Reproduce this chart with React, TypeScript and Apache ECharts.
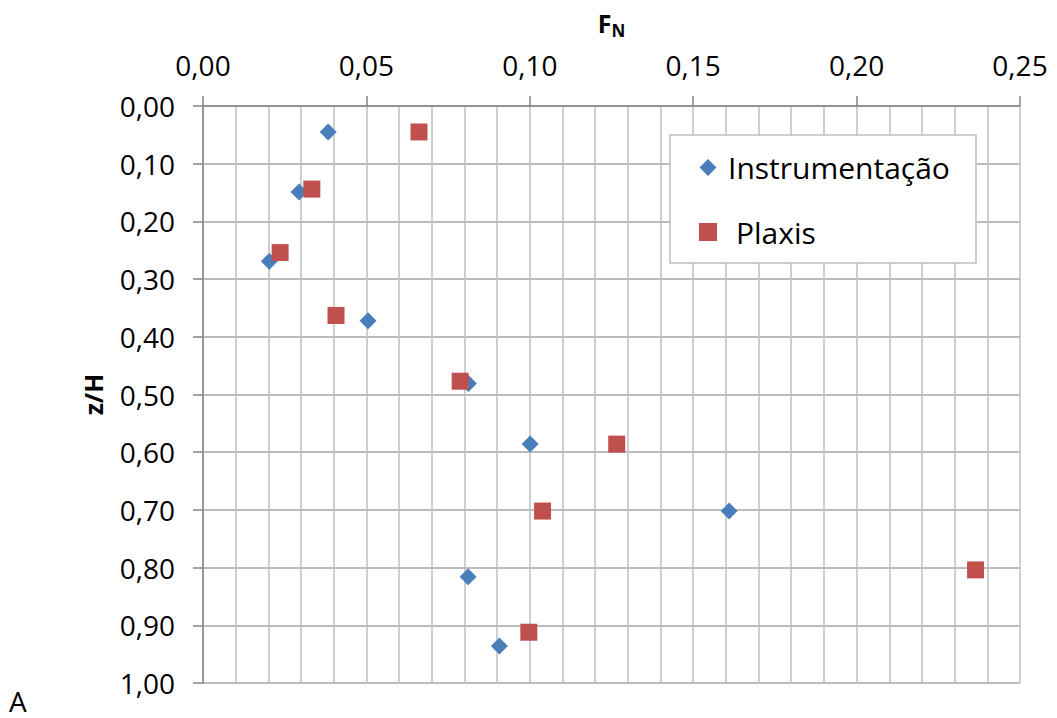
import React, { useEffect, useRef } from "react";
import * as echarts from "echarts";

const seriesNames = ["Instrumentação", "Plaxis"];
const instrumentacaoFN = [0.0383, 0.0294, 0.0203, 0.0505, 0.0812, 0.1001, 0.161, 0.0811, 0.0907];
const instrumentacaoZH = [0.045, 0.149, 0.269, 0.372, 0.481, 0.586, 0.702, 0.816, 0.936];
const plaxisFN = [0.0661, 0.0333, 0.0236, 0.0407, 0.0787, 0.1266, 0.1039, 0.2364, 0.0997];
const plaxisZH = [0.045, 0.144, 0.254, 0.363, 0.477, 0.586, 0.702, 0.804, 0.912];
const xTicks = { min: 0, max: 0.25, interval: 0.05 };
const yTicks = { min: 0, max: 1, interval: 0.1 };

const FONT = "'Open Sans', 'Noto Sans', sans-serif";
const BLUE = "#4A7EBB";
const RED = "#C0504D";

const fmt = (v: number) => v.toFixed(2).replace(".", ",");

export default function App() {
  const ref = useRef<HTMLDivElement>(null);
  useEffect(() => {
    if (!ref.current) return;
    const chart = echarts.init(ref.current, undefined, { renderer: "svg" });
    const instData = instrumentacaoFN.map((x, i) => [x, instrumentacaoZH[i]]);
    const plaxData = plaxisFN.map((x, i) => [x, plaxisZH[i]]);
    chart.setOption({
      animation: false,
      backgroundColor: "#ffffff",
      textStyle: { fontFamily: FONT },
      grid: { left: 203, top: 106, right: 37, bottom: 35, containLabel: false, outerBoundsMode: "none" },
      xAxis: {
        type: "value",
        position: "top",
        min: xTicks.min,
        max: xTicks.max,
        interval: xTicks.interval,
        name: "{f|F}{n|N}",
        nameLocation: "middle",
        nameGap: 68,
        nameTextStyle: {
          rich: {
            f: { fontFamily: FONT, fontSize: 25, fontWeight: "bold", color: "#000", lineHeight: 30 },
            n: { fontFamily: FONT, fontSize: 17, fontWeight: "bold", color: "#000", lineHeight: 30, padding: [14, 0, 0, 0] },
          },
        },
        axisLine: { show: true, lineStyle: { color: "#868686", width: 1.5 } },
        axisTick: { show: true, length: 10, inside: false, lineStyle: { color: "#868686", width: 1.5 } },
        axisLabel: { formatter: fmt, fontSize: 28, color: "#000", margin: 27, fontFamily: FONT },
        splitLine: { show: true, lineStyle: { color: "#BFBFBF", width: 1.5 } },
        minorTick: { show: false, splitNumber: 5 },
        minorSplitLine: { show: true, lineStyle: { color: "#BFBFBF", width: 1.5 } },
      },
      yAxis: {
        type: "value",
        inverse: true,
        min: yTicks.min,
        max: yTicks.max,
        interval: yTicks.interval,
        name: "z/H",
        nameLocation: "middle",
        nameGap: 98,
        nameRotate: 90,
        nameTextStyle: { fontFamily: FONT, fontSize: 25, fontWeight: "bold", color: "#000" },
        axisLine: { show: true, lineStyle: { color: "#868686", width: 1.5 } },
        axisTick: { show: true, length: 10, inside: false, lineStyle: { color: "#868686", width: 1.5 } },
        axisLabel: { formatter: fmt, fontSize: 28, color: "#000", margin: 28, fontFamily: FONT },
        splitLine: { show: true, lineStyle: { color: "#A6A6A6", width: 1.5 } },
      },
      legend: { show: false, data: seriesNames },
      series: [
        {
          name: seriesNames[0],
          type: "scatter",
          symbol: "diamond",
          symbolSize: 17,
          itemStyle: { color: BLUE, opacity: 1 },
          data: instData,
          z: 3,
        },
        {
          name: seriesNames[1],
          type: "scatter",
          symbol: "rect",
          symbolSize: 17,
          itemStyle: { color: RED, opacity: 1 },
          data: plaxData,
          z: 4,
        },
      ],
      graphic: [
        {
          type: "rect",
          shape: { x: 670, y: 135, width: 306, height: 128 },
          style: { fill: "#ffffff", stroke: "#BFBFBF", lineWidth: 1.5 },
          z: 100,
        },
        {
          type: "polygon",
          shape: { points: [[708, 159], [716.5, 167.5], [708, 176], [699.5, 167.5]] },
          style: { fill: BLUE },
          z: 101,
        },
        {
          type: "text",
          x: 728,
          y: 167,
          style: { text: seriesNames[0], fontFamily: FONT, fontSize: 30, fill: "#000", textVerticalAlign: "middle" },
          z: 101,
        },
        {
          type: "rect",
          shape: { x: 699, y: 223, width: 18, height: 18 },
          style: { fill: RED },
          z: 101,
        },
        {
          type: "text",
          x: 736,
          y: 232,
          style: { text: seriesNames[1], fontFamily: FONT, fontSize: 30, fill: "#000", textVerticalAlign: "middle" },
          z: 101,
        },
        {
          type: "text",
          x: 9,
          y: 701,
          style: { text: "A", fontFamily: FONT, fontSize: 28, lineHeight: 28, fill: "#000", textVerticalAlign: "middle" },
          z: 101,
        },
      ],
    });
    return () => chart.dispose();
  }, []);
  return (
    <div
      ref={ref}
      style={{ position: "absolute", left: 0, top: 0, width: 1057, height: 718 }}
    />
  );
}
